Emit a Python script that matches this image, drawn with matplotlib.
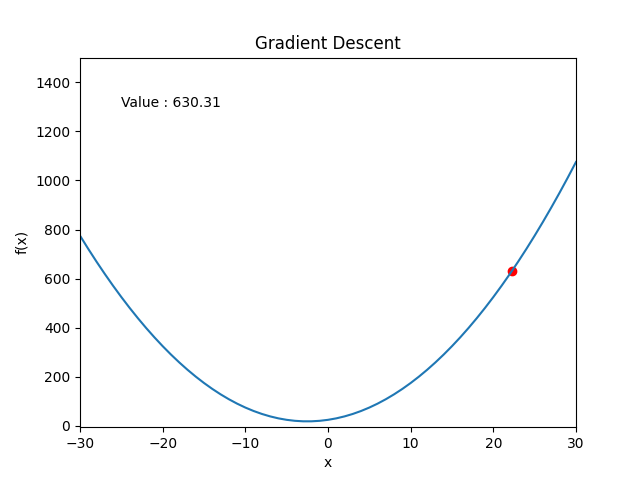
import numpy as np
import matplotlib
matplotlib.use("Agg")
import matplotlib.pyplot as plt

# curve values, one per unit of x
x_vals = list(range(-30, 31))
y_vals = [775, 721, 669, 619, 571, 525, 481, 439, 399, 361,
          325, 291, 259, 229, 201, 175, 151, 129, 109, 91,
          75, 61, 49, 39, 31, 25, 21, 19, 19, 21,
          25, 31, 39, 49, 61, 75, 91, 109, 129, 151,
          175, 201, 229, 259, 291, 325, 361, 399, 439, 481,
          525, 571, 619, 669, 721, 775, 831, 889, 949, 1011,
          1075]

# current point of the descent
point_x = [22.23]
point_y = [630.31]

fig = plt.figure(figsize=(6.4, 4.8), dpi=100)
ax = fig.add_subplot(111)
ax.plot(x_vals, y_vals)
ax.scatter(point_x, point_y, color="red")
ax.text(-25, 1300, "Value : {:.2f}".format(point_y[0]))
ax.set_xlim(-30, 30)
ax.set_ylim(-5, 1500)
ax.set_title("Gradient Descent")
ax.set_xlabel("x")
ax.set_ylabel("f(x)")
fig.savefig("out.png", dpi=100)
